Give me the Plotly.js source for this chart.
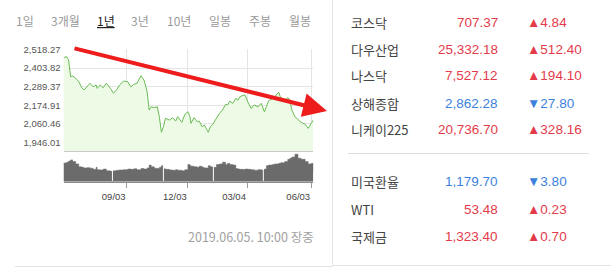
<!DOCTYPE html>
<html>
<head>
<meta charset="utf-8">
<script src="https://cdn.plot.ly/plotly-3.0.1.min.js"></script>
<style>html,body{margin:0;padding:0;background:#fff;}#chart{width:611px;height:270px;}</style>
</head>
<body>
<div id="chart"></div>
<script>
// ---- data ----
const dates = ['2018-06-04','2018-06-08','2018-06-12','2018-06-15','2018-06-19','2018-06-22','2018-06-27',
'2018-07-02','2018-07-04','2018-07-09','2018-07-12','2018-07-17','2018-07-20','2018-07-23','2018-07-26','2018-07-31',
'2018-08-03','2018-08-09','2018-08-14','2018-08-20','2018-08-23','2018-08-29',
'2018-09-04','2018-09-07','2018-09-12','2018-09-17','2018-09-21',
'2018-10-01','2018-10-05','2018-10-10','2018-10-12','2018-10-17','2018-10-22','2018-10-24','2018-10-26','2018-10-30',
'2018-11-01','2018-11-07','2018-11-12','2018-11-15','2018-11-19','2018-11-23','2018-11-28',
'2018-12-03','2018-12-05','2018-12-06','2018-12-11','2018-12-14','2018-12-18','2018-12-21','2018-12-26',
'2019-01-03','2019-01-07','2019-01-09','2019-01-15','2019-01-18','2019-01-23','2019-01-28','2019-01-30',
'2019-02-01','2019-02-11','2019-02-14','2019-02-18','2019-02-20','2019-02-26','2019-02-27',
'2019-03-05','2019-03-08','2019-03-13','2019-03-19','2019-03-22','2019-03-27','2019-03-29',
'2019-04-02','2019-04-08','2019-04-10','2019-04-16','2019-04-18','2019-04-24','2019-04-29',
'2019-05-02','2019-05-07','2019-05-10','2019-05-15','2019-05-20','2019-05-24','2019-05-29',
'2019-06-03','2019-06-05'];
const prices = [2468,2474,2455,2351,2355,2341,2320,
2283,2269,2289,2310,2289,2300,2279,2300,2283,
2310,2279,2249,2269,2300,2324,
2320,2289,2304,2310,2357,
2330,2259,2146,2166,2160,2166,2105,2009,2043,
2095,2084,2099,2078,2105,2070,2119,
2135,2105,2064,2099,2074,2078,2043,2054,
2009,2043,2054,2099,2126,2146,2181,2177,
2201,2187,2218,2207,2228,2238,2238,
2193,2156,2177,2166,2187,2135,2166,
2201,2218,2228,2255,2222,2207,2222,
2207,2146,2105,2084,2070,2058,2033,
2064,2084];
const volumes = [650,680,720,760,700,620,520,
500,480,490,470,430,500,420,410,440,
380,360,380,400,410,420,
440,430,450,420,460,
440,480,580,520,470,460,500,560,450,
430,410,400,420,400,380,420,
600,560,540,520,500,540,500,480,
560,520,500,600,620,680,600,640,
600,580,460,440,430,420,440,
430,420,400,420,410,440,560,
580,600,620,640,660,700,780,
820,860,960,820,780,700,620,
640,350];
const volumeGapDates = ['2018-08-13','2018-10-30','2019-01-10','2019-03-26'];
const marketHolidays = ['2018-06-06','2018-06-13','2018-08-15','2018-09-24','2018-09-25','2018-09-26',
'2018-10-03','2018-10-09','2018-12-25','2018-12-31','2019-01-01','2019-02-04','2019-02-05','2019-02-06',
'2019-03-01','2019-05-01','2019-05-06'];
const xTickDates = ['2018-09-03','2018-12-03','2019-03-04','2019-06-03'];
const xTickLabels = ['09/03','12/03','03/04','06/03'];
const yTickValues = [1946.01,2060.46,2174.91,2289.37,2403.82,2518.27];
const yTickLabels = ['1,946.01','2,060.46','2,174.91','2,289.37','2,403.82','2,518.27'];
const periodTabs = ['1일','3개월','1년','3년','10년','일봉','주봉','월봉'];
const selectedTab = '1년';
const indexNames = ['코스닥','다우산업','나스닥','상해종합','니케이225','미국환율','WTI','국제금'];
const indexValues = ['707.37','25,332.18','7,527.12','2,862.28','20,736.70','1,179.70','53.48','1,323.40'];
const indexChanges = ['4.84','512.40','194.10','27.80','328.16','3.80','0.23','0.70'];
const indexUp = [true,true,true,false,true,false,true,true];
const timestampText = '2019.06.05. 10:00 장중';

// ---- layout helpers (pixel -> paper) ----
const W = 611, H = 270;
const px = v => v / W;
const py = v => 1 - v / H;

const RED = '#e33b4a', BLUE = '#3c82dc';
const rb = [{bounds:['sat','mon']},{values: marketHolidays}];
const xr = ['2018-06-04','2019-06-05'];

const traces = [
  {type:'scatter', mode:'lines', x:dates, y:prices, xaxis:'x', yaxis:'y',
   line:{color:'#6abb55', width:1}, fill:'tozeroy', fillcolor:'#ecfae6', hoverinfo:'skip'},
  {type:'scatter', mode:'lines', x:dates, y:volumes, xaxis:'x2', yaxis:'y2',
   line:{color:'#6b6b6b', width:0.5, shape:'hv'}, fill:'tozeroy', fillcolor:'#6b6b6b', hoverinfo:'skip'}
];

const annotations = [];
const tabCenters = [24.5,65,105.5,139.5,178.7,220,260,300];
periodTabs.forEach((t,i)=>{
  const sel = t === selectedTab;
  annotations.push({xref:'paper',yref:'paper',x:px(tabCenters[i]),y:py(20.5),xanchor:'center',yanchor:'middle',
    showarrow:false,text: sel ? '<u>'+t+'</u>' : t,
    font:{family:'Noto Sans CJK KR',size:12,color: sel ? '#222' : '#9a9a9a'}});
});
const rowY = [22.7,49.3,76,103.3,130,181.7,209.3,236.7];
indexNames.forEach((n,i)=>{
  const col = indexUp[i] ? RED : BLUE;
  annotations.push({xref:'paper',yref:'paper',x:px(349),y:py(rowY[i]),xanchor:'left',yanchor:'middle',showarrow:false,
    text:n,font:{family:'Noto Sans CJK KR',size:13,color:'#444'}});
  annotations.push({xref:'paper',yref:'paper',x:px(499.5),y:py(rowY[i]),xanchor:'right',yanchor:'middle',showarrow:false,
    text:indexValues[i],font:{family:'Liberation Sans',size:13.5,color:col}});
  annotations.push({xref:'paper',yref:'paper',x:px(525),y:py(rowY[i]),xanchor:'left',yanchor:'middle',showarrow:false,
    text:(indexUp[i] ? '▲' : '▼')+indexChanges[i],font:{family:'Liberation Sans',size:13.5,color:col}});
});
annotations.push({xref:'paper',yref:'paper',x:px(316),y:py(236),xanchor:'right',yanchor:'middle',showarrow:false,
  text:timestampText,font:{family:'Noto Sans CJK KR',size:12.5,color:'#a0a0a0'}});
// red trend arrow drawn over the chart
annotations.push({xref:'paper',yref:'paper',x:px(327),y:py(111),text:'',showarrow:true,
  ax:-254,ay:-63,arrowcolor:'#ee1c1c',arrowwidth:4,arrowhead:2,arrowsize:1.2,standoff:0,startstandoff:0});

const shapes = [
  {type:'line',xref:'paper',yref:'paper',x0:px(332.5),x1:px(332.5),y0:py(0),y1:py(265.5),line:{color:'#e3e3e3',width:1}},
  {type:'line',xref:'paper',yref:'paper',x0:px(332.5),x1:1,y0:py(265.5),y1:py(265.5),line:{color:'#e3e3e3',width:1}},
  {type:'line',xref:'paper',yref:'paper',x0:px(15),x1:px(332.5),y0:py(266.5),y1:py(266.5),line:{color:'#e3e3e3',width:1}},
  {type:'line',xref:'paper',yref:'paper',x0:px(348),x1:px(589),y0:py(153.5),y1:py(153.5),line:{color:'#dedede',width:1}}
];
volumeGapDates.forEach(d=>shapes.push({type:'line',xref:'x2',yref:'y2 domain',x0:d,x1:d,y0:0.03,y1:1,layer:'above',
  line:{color:'#ffffff',width:1}}));

const layout = {
  width:W, height:H, autosize:false, margin:{l:0,r:0,t:0,b:0,pad:0},
  paper_bgcolor:'#fff', plot_bgcolor:'#fff', showlegend:false,
  font:{family:'Liberation Sans, Noto Sans CJK KR', size:10, color:'#555'},
  xaxis:{domain:[px(63.5),px(313.3)], anchor:'y', type:'date', range:xr, rangebreaks:rb,
    tickmode:'array', tickvals:xTickDates, showticklabels:false, ticks:'',
    showgrid:true, gridcolor:'#e4e4e4', gridwidth:1, zeroline:false,
    showline:true, linecolor:'#c9c9c9', linewidth:1, automargin:false, fixedrange:true},
  yaxis:{domain:[py(151),py(49)], anchor:'x', range:[1893.7,2521.3], tickmode:'array',
    tickvals:yTickValues, ticktext:yTickLabels, tickfont:{family:'Liberation Sans',size:9.5,color:'#555'},
    showgrid:true, gridcolor:'#e4e4e4', zeroline:false, ticks:'', ticklabelstandoff:2, automargin:false, fixedrange:true},
  xaxis2:{domain:[px(63.5),px(313.3)], anchor:'y2', type:'date', range:xr, rangebreaks:rb,
    tickmode:'array', tickvals:xTickDates, ticktext:xTickLabels, ticks:'outside', ticklen:5, tickcolor:'#9a9a9a',
    tickfont:{family:'Liberation Sans',size:9.5,color:'#444'}, ticklabelshift:-13,
    showgrid:false, zeroline:false, showline:true, linecolor:'#8a8a8a', linewidth:1.5, automargin:false, fixedrange:true},
  yaxis2:{domain:[py(181.7),py(153)], anchor:'x2', range:[0,1000], showticklabels:false, showgrid:false,
    zeroline:false, ticks:'', automargin:false, fixedrange:true},
  annotations:annotations, shapes:shapes
};
Plotly.newPlot('chart', traces, layout, {staticPlot:true, displayModeBar:false});
</script>
</body>
</html>
